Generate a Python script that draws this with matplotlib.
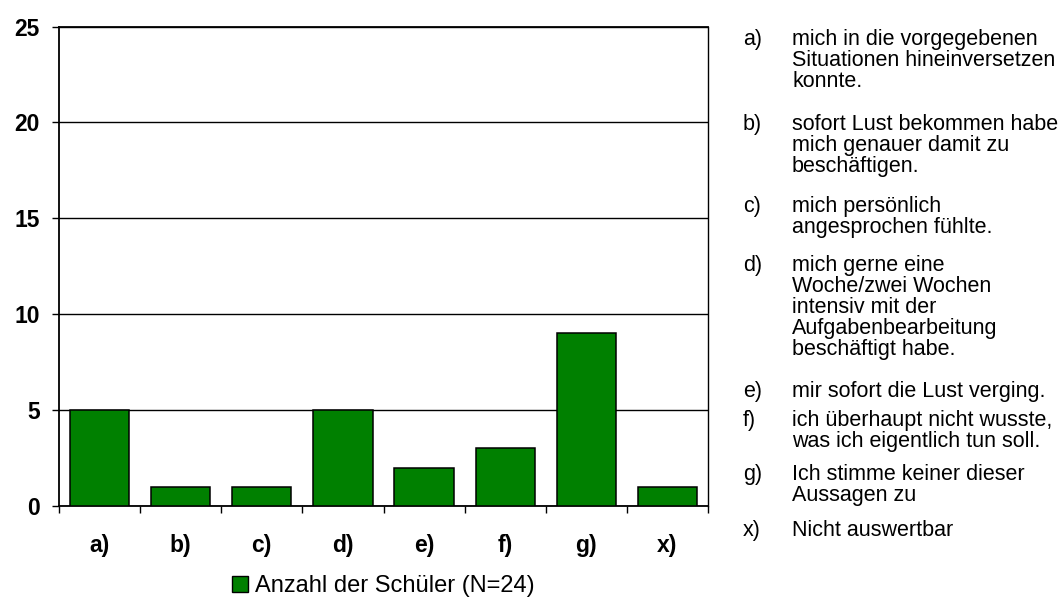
import numpy as np
import matplotlib
matplotlib.use("Agg")
import matplotlib.pyplot as plt
from matplotlib.patches import Patch

plt.rcParams["font.family"] = ["Liberation Sans", "DejaVu Sans"]

categories = ["a)", "b)", "c)", "d)", "e)", "f)", "g)", "x)"]
counts = [5, 1, 1, 5, 2, 3, 9, 1]
series_label = "Anzahl der Schüler (N=24)"
y_ticks = [0, 5, 10, 15, 20, 25]

item_keys = ["a)", "b)", "c)", "d)", "e)", "f)", "g)", "x)"]
item_texts = [
    ["mich in die vorgegebenen", "Situationen hineinversetzen", "konnte."],
    ["sofort Lust bekommen habe", "mich genauer damit zu", "beschäftigen."],
    ["mich persönlich", "angesprochen fühlte."],
    ["mich gerne eine", "Woche/zwei Wochen", "intensiv mit der",
     "Aufgabenbearbeitung", "beschäftigt habe."],
    ["mir sofort die Lust verging."],
    ["ich überhaupt nicht wusste,", "was ich eigentlich tun soll."],
    ["Ich stimme keiner dieser", "Aussagen zu"],
    ["Nicht auswertbar"],
]
# pixel rows (text centre) of the first line of every explanation
item_rows = [37, 122, 204, 263, 389, 418, 472, 528]
line_step = 21
text_size = 15.5

W, H = 1061, 604
fig = plt.figure(figsize=(W / 100, H / 100), dpi=100)
ax = fig.add_axes([59 / W, 1 - 506 / H, (708 - 59) / W, (506 - 26.5) / H])

x = np.arange(len(categories))
ax.bar(x, counts, width=0.73, color="#008000", edgecolor="black",
       linewidth=1.1, zorder=3, label=series_label)

ax.set_xlim(-0.5, len(categories) - 0.5)
ax.set_ylim(0, 25)
ax.set_yticks(y_ticks)
ax.set_yticklabels([str(v) for v in y_ticks], fontsize=16.5, fontweight="bold")
ax.yaxis.grid(True, color="black", linewidth=1.0, zorder=0)

ax.set_xticks(x)
ax.set_xticklabels(categories, fontsize=16.5, fontweight="bold")
ax.set_xticks(np.arange(len(categories) + 1) - 0.5, minor=True)
ax.tick_params(axis="x", which="major", length=0, pad=20)
ax.tick_params(axis="x", which="minor", length=5, width=1.0, direction="out")
ax.tick_params(axis="y", length=5, width=1.0, direction="out", pad=9)

for side in ["left", "right", "top", "bottom"]:
    ax.spines[side].set_linewidth(1.3)
    ax.spines[side].set_color("black")
ax.spines["right"].set_linewidth(1.0)

fig.legend(handles=[Patch(facecolor="#008000", edgecolor="black", linewidth=1.0)],
           labels=[series_label], loc="center left",
           bbox_to_anchor=(232 / W, 1 - 586 / H), frameon=False,
           fontsize=17, handlelength=0.68, handleheight=0.68,
           handletextpad=0.28, borderpad=0, borderaxespad=0)

# baseline sits a little below the visual centre of a line
base_off = 0.36 * text_size * 100 / 72
for key, lines, row in zip(item_keys, item_texts, item_rows):
    fig.text(743 / W, 1 - (row + base_off) / H, key, fontsize=text_size,
             va="baseline", ha="left")
    for i, line in enumerate(lines):
        fig.text(792 / W, 1 - (row + base_off + i * line_step) / H, line,
                 fontsize=text_size, va="baseline", ha="left")

fig.savefig("out.png", dpi=100)
